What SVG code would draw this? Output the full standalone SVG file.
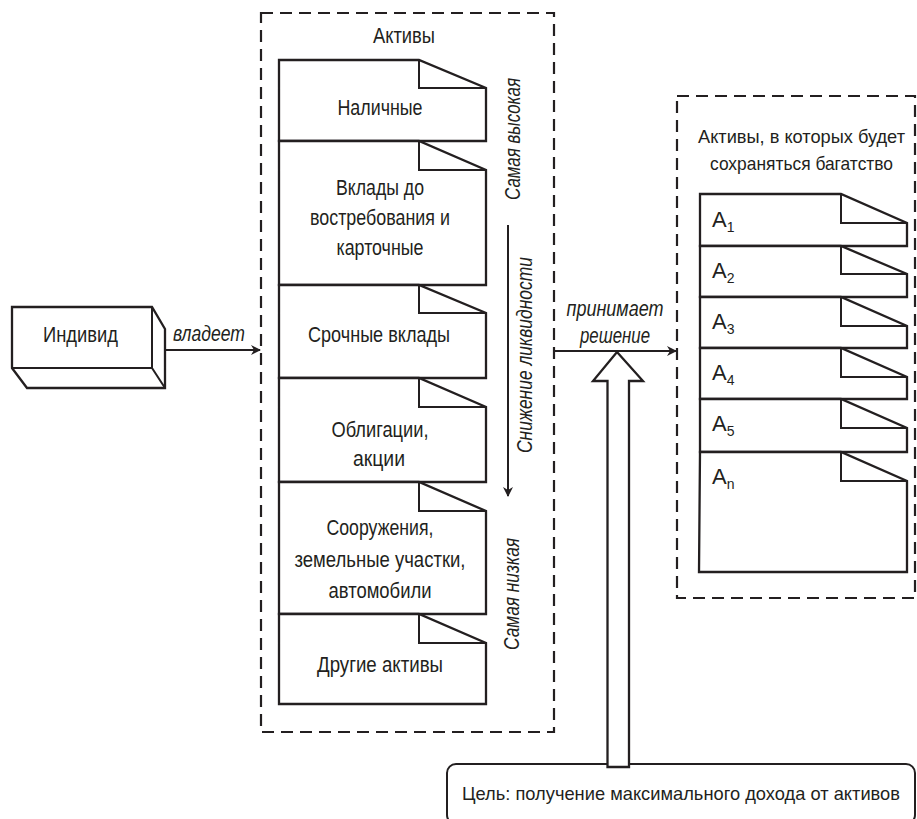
<svg xmlns="http://www.w3.org/2000/svg" width="917" height="819" viewBox="0 0 917 819">
<style>
.t{font-family:"Liberation Sans",Arial,sans-serif;font-size:22px;fill:#231f20;text-anchor:middle}
.i{font-style:italic}
.st{text-anchor:start}
.s{font-size:14px}
.sm{font-size:19px}
.ln{fill:none;stroke:#231f20;stroke-width:2}
.doc{fill:#fff;stroke:#231f20;stroke-width:2.3;stroke-linejoin:miter}
.dash{fill:none;stroke:#231f20;stroke-width:2.2;stroke-dasharray:12 7}
</style>
<defs>
<marker id="ah" markerWidth="10" markerHeight="10" refX="9" refY="5" orient="auto" markerUnits="userSpaceOnUse">
<path d="M0,0 L10,5 L0,10 L3,5 Z" fill="#231f20"/>
</marker>
</defs>
<rect width="917" height="819" fill="#fff"/>

<g id="individ">
<path class="doc" d="M12,307 H152 L165,329 V388 H27 L12,368 Z"/>
<path class="ln" d="M12,368 H152 L165,388 M152,307 V368"/>
<text class="t" x="80.5" y="342" textLength="75" lengthAdjust="spacingAndGlyphs">Индивид</text>
</g>

<g id="assets">
<rect class="dash" x="261" y="13" width="293" height="719"/>
<text class="t" x="404" y="43" textLength="62" lengthAdjust="spacingAndGlyphs">Активы</text>
<g id="doc-cash">
<path class="doc" d="M279,60 H419 L486,88 V141 H279 Z"/><path class="ln" d="M419,60 V88 H486"/>
<text class="t" x="380" y="115" textLength="85" lengthAdjust="spacingAndGlyphs">Наличные</text>
</g>
<g id="doc-demand">
<path class="doc" d="M279,141 H419 L486,170 V285 H279 Z"/><path class="ln" d="M419,141 V170 H486"/>
<text class="t" x="380" y="195" textLength="88" lengthAdjust="spacingAndGlyphs">Вклады до</text>
<text class="t" x="380" y="225" textLength="140" lengthAdjust="spacingAndGlyphs">востребования и</text>
<text class="t" x="380" y="255" textLength="87" lengthAdjust="spacingAndGlyphs">карточные</text>
</g>
<g id="doc-term">
<path class="doc" d="M279,285 H419 L486,313 V378 H279 Z"/><path class="ln" d="M419,285 V313 H486"/>
<text class="t" x="379" y="342" textLength="142" lengthAdjust="spacingAndGlyphs">Срочные вклады</text>
</g>
<g id="doc-bonds">
<path class="doc" d="M279,378 H419 L486,407 V482 H279 Z"/><path class="ln" d="M419,378 V407 H486"/>
<text class="t" x="380" y="437" textLength="97" lengthAdjust="spacingAndGlyphs">Облигации,</text>
<text class="t" x="379" y="466" textLength="52" lengthAdjust="spacingAndGlyphs">акции</text>
</g>
<g id="doc-property">
<path class="doc" d="M279,482 H419 L486,511 V614 H279 Z"/><path class="ln" d="M419,482 V511 H486"/>
<text class="t" x="380" y="535" textLength="107" lengthAdjust="spacingAndGlyphs">Сооружения,</text>
<text class="t" x="380" y="567" textLength="171" lengthAdjust="spacingAndGlyphs">земельные участки,</text>
<text class="t" x="380" y="598" textLength="103" lengthAdjust="spacingAndGlyphs">автомобили</text>
</g>
<g id="doc-other">
<path class="doc" d="M279,614 H419 L486,643 V704 H279 Z"/><path class="ln" d="M419,614 V643 H486"/>
<text class="t" x="380" y="672" textLength="126" lengthAdjust="spacingAndGlyphs">Другие активы</text>
</g>
<text class="t i" transform="translate(520,139) rotate(-90)" textLength="122" lengthAdjust="spacingAndGlyphs">Самая высокая</text>
<text class="t i" transform="translate(532,355) rotate(-90)" textLength="196" lengthAdjust="spacingAndGlyphs">Снижение ликвидности</text>
<text class="t i" transform="translate(519,594) rotate(-90)" textLength="112" lengthAdjust="spacingAndGlyphs">Самая низкая</text>
</g>

<g id="chosen">
<rect class="dash" x="677" y="96" width="238" height="502"/>
<text class="t sm" x="801.5" y="143" textLength="207" lengthAdjust="spacingAndGlyphs">Активы, в которых будет</text>
<text class="t sm" x="801.5" y="170" textLength="183" lengthAdjust="spacingAndGlyphs">сохраняться багатство</text>
<g id="a1"><path class="doc" d="M700,194 H841 L907,223 V246 H700 Z"/><path class="ln" d="M841,194 V223 H907"/>
<text class="t st" x="712" y="227">A<tspan class="s" dy="5">1</tspan></text></g>
<g id="a2"><path class="doc" d="M700,246 H841 L907,274 V297 H700 Z"/><path class="ln" d="M841,246 V274 H907"/>
<text class="t st" x="712" y="278">A<tspan class="s" dy="5">2</tspan></text></g>
<g id="a3"><path class="doc" d="M700,297 H841 L907,326 V348 H700 Z"/><path class="ln" d="M841,297 V326 H907"/>
<text class="t st" x="712" y="329">A<tspan class="s" dy="5">3</tspan></text></g>
<g id="a4"><path class="doc" d="M700,348 H841 L907,377 V399 H700 Z"/><path class="ln" d="M841,348 V377 H907"/>
<text class="t st" x="712" y="380">A<tspan class="s" dy="5">4</tspan></text></g>
<g id="a5"><path class="doc" d="M700,399 H841 L907,428 V452 H700 Z"/><path class="ln" d="M841,399 V428 H907"/>
<text class="t st" x="712" y="431">A<tspan class="s" dy="5">5</tspan></text></g>
<g id="an"><path class="doc" d="M700,452 H841 L907,481 V572 H699 Z"/><path class="ln" d="M841,452 V481 H907"/>
<text class="t st" x="712" y="484">A<tspan class="s" dy="5">n</tspan></text></g>
</g>

<g id="goal">
<rect x="447" y="764" width="468" height="60" rx="9" fill="#fff" stroke="#231f20" stroke-width="2"/>
<text class="t sm" x="681" y="800" textLength="438" lengthAdjust="spacingAndGlyphs">Цель: получение максимального дохода от активов</text>
</g>

<g id="connectors">
<line class="ln" x1="165" y1="350" x2="260" y2="350" marker-end="url(#ah)"/>
<text class="t i" x="209" y="341" textLength="72" lengthAdjust="spacingAndGlyphs">владеет</text>
<line class="ln" x1="554" y1="351" x2="676" y2="351" marker-end="url(#ah)"/>
<text class="t i" x="615" y="316" textLength="97" lengthAdjust="spacingAndGlyphs">принимает</text>
<text class="t i" x="615" y="343" textLength="70" lengthAdjust="spacingAndGlyphs">решение</text>
<line class="ln" x1="508" y1="225" x2="508" y2="496" marker-end="url(#ah)"/>
<path d="M617,352 L643,381 H629 V767 H607.5 V381 H593 Z" fill="#fff" stroke="#231f20" stroke-width="2.3" stroke-linejoin="miter"/>
</g>
</svg>
